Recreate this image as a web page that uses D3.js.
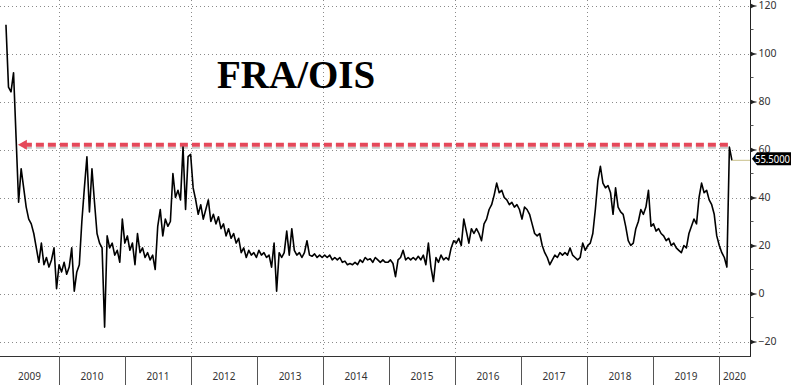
<!DOCTYPE html>
<html>
<head>
<meta charset="utf-8">
<script src="https://cdn.jsdelivr.net/npm/d3@7"></script>
<style>
body { margin: 0; background: #fff; }
svg { display: block; }
</style>
</head>
<body>
<div id="chart"></div>
<script>
// FRA/OIS spread, one reading every two weeks
const seriesStart = "2009-03-13";
const stepDays = 14;
const fraois = [
  112, 86, 84, 92, 65, 38, 52, 44, 36, 31, 29, 25, 19, 13, 21, 12, 15, 11, 14, 19, 2,
  12, 9, 13, 8, 11, 19, 1, 9, 12, 30, 44, 57, 34, 52, 38, 25, 21, 19, -14, 24, 19, 21, 16, 18, 13, 31,
  21, 24, 18, 21, 12, 25, 17, 19, 15, 17, 14, 16, 10, 28, 35, 24, 31, 28, 30, 50, 40, 43, 39, 61, 35, 57,
  58, 44, 39, 33, 37, 31, 35, 39, 30, 33, 29, 32, 27, 29, 24, 27, 23, 25, 21, 23, 17, 19, 15, 18, 16, 17,
  15, 18, 16, 17, 15, 16, 11, 21, 1, 17, 15, 17, 26, 16, 27, 18, 16, 17, 15, 17, 22, 16, 15.5, 16.5, 15, 16,
  15, 16, 15, 16, 14, 15, 14, 15, 13, 13.5, 12, 12.5, 12, 13, 12, 14, 13, 15, 14, 14.5, 13, 15, 14, 13, 14, 13,
  13, 14, 12.5, 7, 14, 15, 18, 14, 15, 14, 15, 14, 15.5, 14, 16, 12, 21, 11, 5, 15, 13, 16, 14, 15, 14, 19, 22,
  21, 23, 20, 31, 26, 21, 27, 25, 27, 25, 22, 29, 31, 35, 37, 41, 46, 42, 43, 40, 39, 37, 38, 36, 37, 35,
  31, 36, 35, 33, 29, 25, 24, 25, 20, 17, 15, 12, 14, 16, 15, 17, 16, 17, 16, 19, 16, 15, 14, 15, 21, 18,
  20, 21, 25, 35, 47, 53, 46, 44, 45, 42, 33, 44, 36, 34, 33, 28, 22, 20, 21, 27, 30, 35, 33, 36, 43, 28,
  29, 26, 27, 25, 24, 22, 23, 20, 21, 19, 18, 17, 20, 19, 25, 28, 31, 29, 40, 46, 42, 43, 39, 37, 33, 24,
  20, 17, 15, 11, 61, 55.5
];
const lastLabel = "55.5000";

const yTicks = [-20, 0, 20, 40, 60, 80, 100, 120];
const yMinor = [-10, 10, 30, 50, 70, 90, 110];
const years = [2009, 2010, 2011, 2012, 2013, 2014, 2015, 2016, 2017, 2018, 2019, 2020];
const gridYears = [2010, 2012, 2014, 2016, 2018, 2020];

// red dashed marker
const refLevel = 62;
const refFrom = "2009-05-18";
const refTo = "2020-02-25";

const title = "FRA/OIS";

var width = 800, height = 385;
var plotRight = 750, plotBottom = 356;
var sans = "'Segoe UI', 'Noto Sans', sans-serif";

var parse = d3.timeParse("%Y-%m-%d");
var start = parse(seriesStart);
var data = fraois.map((v, i) => ({date: d3.timeDay.offset(start, i * stepDays), value: v}));

var svg = d3.select("#chart").append("svg")
  .attr("width", width)
  .attr("height", height);

var x = d3.scaleTime()
  .domain([new Date(2009, 1, 8), new Date(2020, 5, 21)])
  .range([0, plotRight]);

var y = d3.scaleLinear()
  .domain([-20, 120])
  .range([341.5, 5.5]);

// dotted grid
svg.append("g")
  .selectAll("line")
  .data(yTicks)
  .join("line")
  .attr("x1", 0).attr("x2", plotRight)
  .attr("y1", d => Math.round(y(d)) + 0.5).attr("y2", d => Math.round(y(d)) + 0.5)
  .attr("stroke", "#8a8a8a")
  .attr("stroke-dasharray", "1,3");

svg.append("g")
  .selectAll("line")
  .data(gridYears)
  .join("line")
  .attr("x1", d => Math.round(x(new Date(d, 0, 1))) + 0.5)
  .attr("x2", d => Math.round(x(new Date(d, 0, 1))) + 0.5)
  .attr("y1", 0).attr("y2", plotBottom)
  .attr("stroke", "#8a8a8a")
  .attr("stroke-dasharray", "1,3");

// year boxes along the bottom
var yearG = svg.append("g");
yearG.append("line")
  .attr("x1", 0).attr("x2", plotRight + 1)
  .attr("y1", plotBottom + 0.5).attr("y2", plotBottom + 0.5)
  .attr("stroke", "#333");
yearG.selectAll("line.sep")
  .data(years.slice(1))
  .join("line")
  .attr("class", "sep")
  .attr("x1", d => Math.round(x(new Date(d, 0, 1))) + 0.5)
  .attr("x2", d => Math.round(x(new Date(d, 0, 1))) + 0.5)
  .attr("y1", plotBottom).attr("y2", height)
  .attr("stroke", "#555");
yearG.selectAll("text")
  .data(years)
  .join("text")
  .attr("x", d => {
    var a = Math.max(0, x(new Date(d, 0, 1)));
    var b = Math.min(plotRight, x(new Date(d + 1, 0, 1)));
    return (a + b) / 2;
  })
  .attr("y", 380)
  .attr("text-anchor", "middle")
  .attr("font-family", sans)
  .attr("font-size", "10px")
  .attr("fill", "#333")
  .text(d => d);

// right axis
function yAxis(g) {
  g.attr("transform", `translate(${plotRight + 0.5},0)`)
    .call(d3.axisRight(y).tickValues(yTicks).tickSize(6).tickPadding(2))
    .attr("font-family", sans)
    .attr("font-size", "10.5px");
  g.select(".domain").attr("d", `M0,0V${plotBottom}`).attr("stroke", "#222");
  g.selectAll(".tick line").attr("stroke", "#222");
  g.selectAll(".tick text").attr("fill", "#333");
  g.selectAll(".tick").append("path")
    .attr("d", "M0,-2.5L5,0L0,2.5Z")
    .attr("fill", "#222");
}
svg.append("g").call(yAxis);

svg.append("g")
  .attr("transform", `translate(${plotRight + 0.5},0)`)
  .selectAll("line")
  .data(yMinor)
  .join("line")
  .attr("x1", 0).attr("x2", 3)
  .attr("y1", d => y(d)).attr("y2", d => y(d))
  .attr("stroke", "#555");

// title
svg.append("text")
  .attr("x", 217)
  .attr("y", 88)
  .attr("font-family", "'Liberation Serif', 'Times New Roman', serif")
  .attr("font-weight", "bold")
  .attr("font-size", "39px")
  .attr("fill", "#000")
  .text(title);

// red dashed arrow
var refY = y(refLevel);
var rx0 = x(parse(refFrom)), rx1 = x(parse(refTo));
svg.append("line")
  .attr("x1", rx0 + 6).attr("x2", rx1)
  .attr("y1", refY + 3).attr("y2", refY + 3)
  .attr("stroke", "#c8c8c8")
  .attr("stroke-width", 2)
  .attr("stroke-dasharray", "8,4");
svg.append("line")
  .attr("x1", rx0 + 6).attr("x2", rx1)
  .attr("y1", refY).attr("y2", refY)
  .attr("stroke", "#e5485a")
  .attr("stroke-width", 4)
  .attr("stroke-dasharray", "8,4");
svg.append("path")
  .attr("d", `M${rx0},${refY}L${rx0 + 9},${refY - 5}L${rx0 + 9},${refY + 5}Z`)
  .attr("fill", "#e5485a");

// the series
var line = d3.line()
  .x(d => x(d.date))
  .y(d => y(d.value));

svg.append("path")
  .datum(data)
  .attr("fill", "none")
  .attr("stroke", "#000")
  .attr("stroke-width", 1.6)
  .attr("stroke-linejoin", "round")
  .attr("d", line);

// last value marker
var last = data[data.length - 1];
var ly = y(last.value) - 1.5;
svg.append("line")
  .attr("x1", x(last.date)).attr("x2", plotRight)
  .attr("y1", ly + 1.5).attr("y2", ly + 1.5)
  .attr("stroke", "#c8c08a");
svg.append("path")
  .attr("d", `M${plotRight + 2},${ly}L${plotRight + 7},${ly - 6.5}H${plotRight + 41}V${ly + 6.5}H${plotRight + 7}Z`)
  .attr("fill", "#000");
svg.append("text")
  .attr("x", plotRight + 5)
  .attr("y", ly + 4)
  .attr("font-family", sans)
  .attr("font-size", "11px")
  .attr("textLength", 35)
  .attr("lengthAdjust", "spacingAndGlyphs")
  .attr("fill", "#fff")
  .text(lastLabel);
</script>
</body>
</html>
